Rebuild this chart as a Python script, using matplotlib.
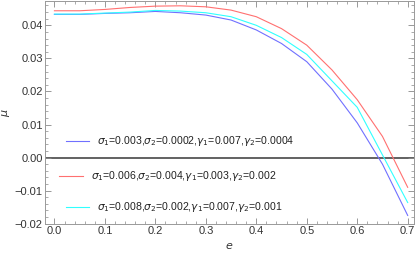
import numpy as np
import matplotlib
matplotlib.use("Agg")
import matplotlib.pyplot as plt
from matplotlib.ticker import MultipleLocator

# eccentricity grid and mu values
e = [0.0, 0.05, 0.1, 0.15, 0.2, 0.25, 0.3, 0.35, 0.4, 0.45, 0.5, 0.55, 0.6, 0.65, 0.7]
mu_blue = [0.0433, 0.0433, 0.0436, 0.0438, 0.0442, 0.0438, 0.0431, 0.0416, 0.0386,
           0.0345, 0.0290, 0.0207, 0.0105, -0.0020, -0.0175]
mu_red = [0.0444, 0.0444, 0.0448, 0.0454, 0.0458, 0.0459, 0.0456, 0.0446, 0.0426,
          0.0390, 0.0340, 0.0265, 0.0175, 0.0064, -0.0090]
mu_cyan = [0.0434, 0.0434, 0.0437, 0.0440, 0.0445, 0.0443, 0.0438, 0.0426, 0.0400,
           0.0363, 0.0312, 0.0232, 0.0152, 0.0008, -0.0136]

labels = [r"$\sigma_1$=0.003,$\sigma_2$=0.0002,$\gamma_1$=0.007,$\gamma_2$=0.0004",
          r"$\sigma_1$=0.006,$\sigma_2$=0.004,$\gamma_1$=0.003,$\gamma_2$=0.002",
          r"$\sigma_1$=0.008,$\sigma_2$=0.002,$\gamma_1$=0.007,$\gamma_2$=0.001"]
colors = ["#7070ff", "#ff7070", "#30ffff"]

plt.rcParams["font.family"] = ["Liberation Sans", "DejaVu Sans"]
plt.rcParams["mathtext.fontset"] = "dejavusans"

fig = plt.figure(figsize=(4.15, 2.59), dpi=100)
ax = fig.add_axes([0.108, 0.135, 0.889, 0.863])

ax.axhline(0, color="#555555", lw=1.3, zorder=1)
for y, c in zip([mu_blue, mu_red, mu_cyan], colors):
    ax.plot(e, y, color=c, lw=0.8, zorder=2)

ax.set_xlim(-0.019, 0.712)
ax.set_ylim(-0.0201, 0.0475)

ax.xaxis.set_major_locator(MultipleLocator(0.1))
ax.xaxis.set_minor_locator(MultipleLocator(0.02))
ax.yaxis.set_major_locator(MultipleLocator(0.01))
ax.yaxis.set_minor_locator(MultipleLocator(0.002))
ax.xaxis.set_major_formatter(lambda v, p: "%.1f" % v)
ax.yaxis.set_major_formatter(lambda v, p: ("%.2f" % v).replace("-", "\u2212"))

ax.tick_params(which="both", direction="in", top=True, right=True,
               colors="#888888", labelcolor="#333333", labelsize=8, pad=1.5)
ax.tick_params(which="major", length=4, width=0.6)
ax.tick_params(which="minor", length=2, width=0.5)
for s in ax.spines.values():
    s.set_color("#999999")
    s.set_linewidth(0.7)

ax.set_xlabel(r"$e$", fontsize=8, color="#333333")
ax.set_ylabel(r"$\mu$", fontsize=8, color="#333333")
ax.xaxis.set_label_coords(0.5, -0.075)
ax.yaxis.set_label_coords(-0.09, 0.5)

# manual legend entries, placed like the reference
legend_pos = [(0.022, 0.0050), (0.010, -0.0057), (0.022, -0.0148)]
for (x0, y0), c, lab in zip(legend_pos, colors, labels):
    ax.plot([x0, x0 + 0.046], [y0, y0], color=c, lw=0.8)
    ax.text(x0 + 0.062, y0, lab, fontsize=7.6, color="#222222", va="center")

fig.savefig("out.png", dpi=100)
